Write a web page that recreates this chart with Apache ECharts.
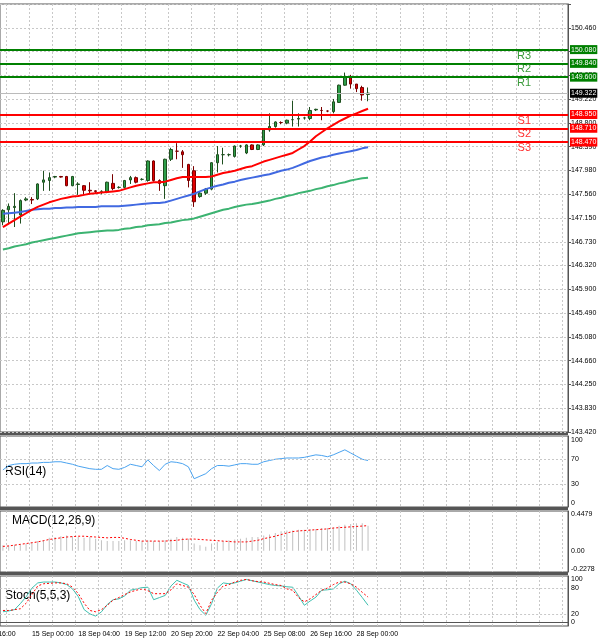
<!DOCTYPE html>
<html><head><meta charset="utf-8">
<script src="https://cdn.jsdelivr.net/npm/echarts@6/dist/echarts.min.js"></script>
<style>html,body{margin:0;padding:0;background:#fff}#c{width:600px;height:643px}</style>
</head><body><div id="c"></div>
<script>
// ---- data ----
const open  = [147.08,147.29,147.33,147.20,147.46,147.47,147.48,147.77,147.80,147.86,147.87,147.87,147.71,147.73,147.71,147.63,147.62,147.61,147.60,147.75,147.68,147.68,147.81,147.85,147.82,147.80,148.14,147.80,147.71,148.17,148.31,148.30,148.08,147.97,147.52,147.58,147.65,148.11,148.25,148.25,148.22,148.40,148.28,148.42,148.34,148.42,148.68,148.74,148.81,148.80,148.86,148.87,148.89,148.88,149.03,149.02,149.01,149.00,149.16,149.46,149.59,149.48,149.42,149.30];
const close = [147.28,147.35,147.35,147.45,147.48,147.46,147.74,147.81,147.85,147.87,147.86,147.71,147.87,147.74,147.63,147.62,147.61,147.61,147.77,147.66,147.68,147.80,147.85,147.77,147.82,148.14,147.80,147.75,148.17,148.34,148.31,148.25,147.80,147.43,147.58,147.65,148.11,148.25,148.25,148.25,148.40,148.40,148.42,148.34,148.42,148.68,148.74,148.82,148.81,148.85,148.86,148.88,148.89,149.02,149.04,149.02,149.01,149.17,149.46,149.60,149.48,149.40,149.29,149.322];
const low   = [147.02,147.05,146.99,147.05,147.44,147.39,147.46,147.62,147.62,147.84,147.85,147.70,147.70,147.55,147.55,147.57,147.58,147.56,147.58,147.63,147.66,147.66,147.74,147.75,147.80,147.78,147.78,147.62,147.48,148.14,148.17,148.02,147.68,147.34,147.50,147.55,147.63,147.94,148.08,148.22,148.20,148.37,148.26,148.33,148.33,148.40,148.65,148.72,148.78,148.78,148.74,148.74,148.86,148.85,149.01,148.85,148.99,148.97,149.15,149.45,149.40,149.34,149.19,149.18];
const high  = [147.30,147.40,147.58,147.47,147.51,147.51,147.75,147.97,147.94,147.88,147.88,147.88,147.88,147.77,147.72,147.77,147.63,147.63,147.78,147.91,147.70,147.81,147.88,147.87,147.84,148.15,148.15,147.82,148.18,148.37,148.45,148.33,148.09,148.05,147.60,147.67,148.12,148.40,148.37,148.27,148.41,148.42,148.43,148.43,148.43,148.71,148.97,148.83,148.83,148.86,149.19,148.97,148.91,149.08,149.05,149.08,149.02,149.22,149.47,149.68,149.64,149.48,149.45,149.42];
const maFast = [146.99,147.05,147.11,147.17,147.23,147.29,147.34,147.38,147.42,147.45,147.48,147.50,147.52,147.53,147.55,147.57,147.58,147.59,147.60,147.61,147.62,147.65,147.68,147.71,147.73,147.75,147.77,147.77,147.78,147.81,147.84,147.86,147.86,147.86,147.86,147.86,147.87,147.90,147.93,147.95,147.97,148.00,148.03,148.05,148.09,148.13,148.16,148.19,148.22,148.25,148.28,148.34,148.40,148.48,148.57,148.64,148.71,148.77,148.83,148.88,148.93,148.97,149.01,149.05];
const maMid = [147.22,147.23,147.24,147.25,147.27,147.29,147.30,147.31,147.31,147.32,147.32,147.33,147.33,147.34,147.34,147.34,147.34,147.35,147.35,147.35,147.35,147.36,147.37,147.38,147.39,147.40,147.41,147.41,147.42,147.45,147.48,147.51,147.54,147.57,147.61,147.65,147.68,147.71,147.73,147.76,147.78,147.81,147.83,147.85,147.87,147.89,147.91,147.94,147.97,147.99,148.02,148.06,148.10,148.14,148.17,148.20,148.22,148.25,148.27,148.29,148.31,148.33,148.36,148.38];
const maSlow = [146.60,146.62,146.65,146.67,146.69,146.72,146.74,146.76,146.78,146.80,146.82,146.84,146.86,146.88,146.89,146.90,146.91,146.92,146.93,146.93,146.94,146.96,146.97,146.99,147.00,147.02,147.03,147.04,147.06,147.07,147.09,147.11,147.12,147.14,147.17,147.20,147.23,147.26,147.29,147.31,147.34,147.36,147.38,147.39,147.41,147.43,147.45,147.48,147.50,147.53,147.55,147.58,147.60,147.62,147.65,147.67,147.70,147.72,147.75,147.77,147.80,147.82,147.84,147.85];
const rsi = [53,60,62,63,63,64,64,65,65,66,66,64,62,59,57,55,54,54,60,55,54,57,62,60,58,69,60,52,62,66,65,63,58,39,43,47,55,60,60,59,61,63,63,62,62,66,68,70,71,72,72,72,73,75,77,76,74,77,81,85,80,75,70,68];
const macdHist = [.07,.07,.075,.08,.09,.10,.12,.13,.16,.17,.18,.19,.18,.17,.16,.17,.15,.13,.12,.12,.12,.13,.13,.12,.12,.13,.12,.12,.13,.15,.17,.16,.15,.09,.07,.05,.09,.11,.12,.13,.14,.15,.16,.17,.17,.19,.20,.22,.24,.25,.25,.26,.26,.27,.27,.28,.28,.29,.31,.32,.33,.34,.34,.31];
const macdSignal = [.055,.06,.07,.08,.09,.10,.11,.125,.14,.15,.16,.17,.175,.18,.18,.175,.17,.165,.16,.165,.165,.155,.14,.13,.12,.12,.12,.12,.12,.125,.13,.14,.145,.145,.14,.135,.13,.125,.12,.115,.11,.11,.11,.12,.13,.15,.165,.18,.20,.22,.237,.245,.25,.255,.26,.265,.27,.28,.285,.29,.295,.30,.305,.31];
const stochK = [25,27,30,44,60,80,92,94,94,94,92,88,78,60,30,20,15,25,42,53,55,62,75,78,81,82,53,58,63,85,98,92,86,52,30,17,44,80,92,90,92,96,100,97,94,91,88,86,85,83,82,62,40,50,59,75,76,78,90,96,90,75,58,40];
const stochD = [28,28,30,32,45,65,85,90,91,92,92,90,82,67,45,28,25,30,40,52,58,65,71,75,78,74,67,67,67,76,90,86,82,65,40,21,52,70,85,88,94,98,100,97,95,94,91,88,86,78,75,58,48,55,65,75,80,88,94,94,90,82,70,59];
const levelNames  = ['R3','R2','R1','S1','S2','S3'];
const levelValues = [150.08,149.84,149.60,148.95,148.71,148.47];
const lastPrice = 149.322;
const tickIndex  = [5,13,21,29,37,45,53,61];
const tickLabels = ['15 Sep 00:00','18 Sep 04:00','19 Sep 12:00','20 Sep 20:00','22 Sep 04:00','25 Sep 08:00','26 Sep 16:00','28 Sep 00:00'];
const slotCount = 98;
const priceMin = 143.42, priceStep = 7.04/17;

// ---- build ----
const cats = [];
for (let i=0;i<slotCount;i++){ const k=tickIndex.indexOf(i); cats.push(k>=0?tickLabels[k]:''); }
const ohlc = open.map((o,i)=>[o,close[i],low[i],high[i]]);
const GREEN='#008000', RED='#ff0000';
const font='Liberation Sans';
const grids=[
  {left:0,right:32,top:4,height:428},
  {left:0,right:32,top:436,height:71},
  {left:0,right:32,top:511,height:61},
  {left:0,right:32,top:576,height:50}
].map(g=>Object.assign(g,{show:true,borderColor:'#555',borderWidth:1}));
const xAxes=grids.map((g,gi)=>({
  type:'category',gridIndex:gi,data:cats,boundaryGap:true,
  axisLine:{show:gi===3,lineStyle:{color:'#555'}},axisTick:{show:false},
  axisLabel:{show:gi===3,interval:0,align:'left',fontSize:7,fontFamily:font,color:'#000',margin:5},
  splitLine:{show:true,interval:(i)=>i%4===1,lineStyle:{color:'#c8c8c8',type:[2,2]}}
}));
const yBase={position:'right',axisLine:{show:true,lineStyle:{color:'#555'}},axisTick:{show:true,length:3,lineStyle:{color:'#555'}},
  axisLabel:{fontSize:7,fontFamily:font,color:'#000',margin:3},splitLine:{show:false}};
const yAxes=[
  Object.assign({},yBase,{gridIndex:0,min:priceMin,max:priceMin+18*priceStep,interval:priceStep,
    axisLabel:Object.assign({},yBase.axisLabel,{formatter:v=>v>150.6?'':v.toFixed(2)+'0'}),
    splitLine:{show:true,lineStyle:{color:'#c8c8c8',type:[2,2]}}}),
  Object.assign({},yBase,{gridIndex:1,min:-6,max:107,axisLabel:Object.assign({},yBase.axisLabel,{customValues:[0,30,70,100]}),axisTick:{show:false}}),
  Object.assign({},yBase,{gridIndex:2,min:-0.26,max:0.49,axisLabel:Object.assign({},yBase.axisLabel,{customValues:[-0.2278,0,0.4479],formatter:v=>v===0?'0.00':v.toFixed(4)}),axisTick:{show:false}}),
  Object.assign({},yBase,{gridIndex:3,min:-8,max:108,axisLabel:Object.assign({},yBase.axisLabel,{customValues:[0,20,80,100]}),axisTick:{show:false}})
];
const dash={color:'#c8c8c8',type:[2,2],width:1};
const series=[
  {type:'candlestick',xAxisIndex:0,yAxisIndex:0,data:ohlc,barWidth:3,
   itemStyle:{color:'#2e9e4a',color0:'#e00000',borderColor:'#1f4f1f',borderColor0:'#7a0000',borderWidth:1}},
  {type:'line',data:maSlow,xAxisIndex:0,yAxisIndex:0,symbol:'none',lineStyle:{color:'#3cb371',width:2}},
  {type:'line',data:maMid,xAxisIndex:0,yAxisIndex:0,symbol:'none',lineStyle:{color:'#4169e1',width:2}},
  {type:'line',data:maFast,xAxisIndex:0,yAxisIndex:0,symbol:'none',lineStyle:{color:'#ff0000',width:2}},
  {type:'line',data:[],xAxisIndex:0,yAxisIndex:0,
   markLine:{silent:true,symbol:'none',animation:false,
     data:levelValues.map((v,i)=>({yAxis:v,lineStyle:{color:i<3?GREEN:RED,width:2,type:'solid'},
       label:{position:'end',distance:2,formatter:v.toFixed(3),color:'#fff',backgroundColor:i<3?GREEN:RED,fontSize:7,fontFamily:font,padding:[1,1]}}))
     .concat([{yAxis:lastPrice,lineStyle:{color:'#bbb',width:1,type:'solid'},
       label:{position:'end',distance:2,formatter:lastPrice.toFixed(3),color:'#fff',backgroundColor:'#000',fontSize:7,fontFamily:font,padding:[1,1]}}])}},
  {type:'line',data:[],xAxisIndex:0,yAxisIndex:0,
   markLine:{silent:true,symbol:'none',animation:false,
     data:levelValues.map((v,i)=>({yAxis:v,lineStyle:{color:'rgba(0,0,0,0)',width:0},
       label:{show:true,position:'insideEndBottom',distance:0,formatter:levelNames[i],color:i<3?'#3a9a3a':'#ff3030',fontSize:11,lineHeight:12,fontFamily:font,padding:[0,37,0,0]}}))}},
  {type:'line',data:rsi,xAxisIndex:1,yAxisIndex:1,symbol:'none',lineStyle:{color:'#4aa3f0',width:1},
   markLine:{silent:true,symbol:'none',label:{show:false},lineStyle:dash,data:[{yAxis:70},{yAxis:30}]}},
  {type:'bar',data:macdHist,xAxisIndex:2,yAxisIndex:2,barWidth:1,itemStyle:{color:'#c0c0c0'}},
  {type:'line',data:macdSignal,xAxisIndex:2,yAxisIndex:2,symbol:'none',lineStyle:{color:'#ff0000',width:1,type:[2,2]}},
  {type:'line',data:stochK,xAxisIndex:3,yAxisIndex:3,symbol:'none',lineStyle:{color:'#40c0b0',width:1},
   markLine:{silent:true,symbol:'none',label:{show:false},lineStyle:dash,data:[{yAxis:80},{yAxis:20}]}},
  {type:'line',data:stochD,xAxisIndex:3,yAxisIndex:3,symbol:'none',lineStyle:{color:'#ff0000',width:1,type:[2,2]}}
];
const txt=(x,y,t)=>({type:'text',left:x,top:y,style:{text:t,fontSize:12,fontFamily:font,fill:'#000'}});
const sep=y=>({type:'rect',shape:{x:0,y:y,width:568,height:3},style:{fill:'#555'}});
const chart=echarts.init(document.getElementById('c'),null,{renderer:'canvas'});
chart.setOption({animation:false,backgroundColor:'#fff',grid:grids,xAxis:xAxes,yAxis:yAxes,series:series,
  graphic:[sep(432),sep(507),sep(572),
    txt(5,466,'RSI(14)'),txt(12,515,'MACD(12,26,9)'),txt(5,590,'Stoch(5,5,3)'),
    {type:'text',left:-26,top:631,style:{text:'14 Sep 16:00',fontSize:7,fontFamily:font,fill:'#000'}}]});
</script></body></html>
